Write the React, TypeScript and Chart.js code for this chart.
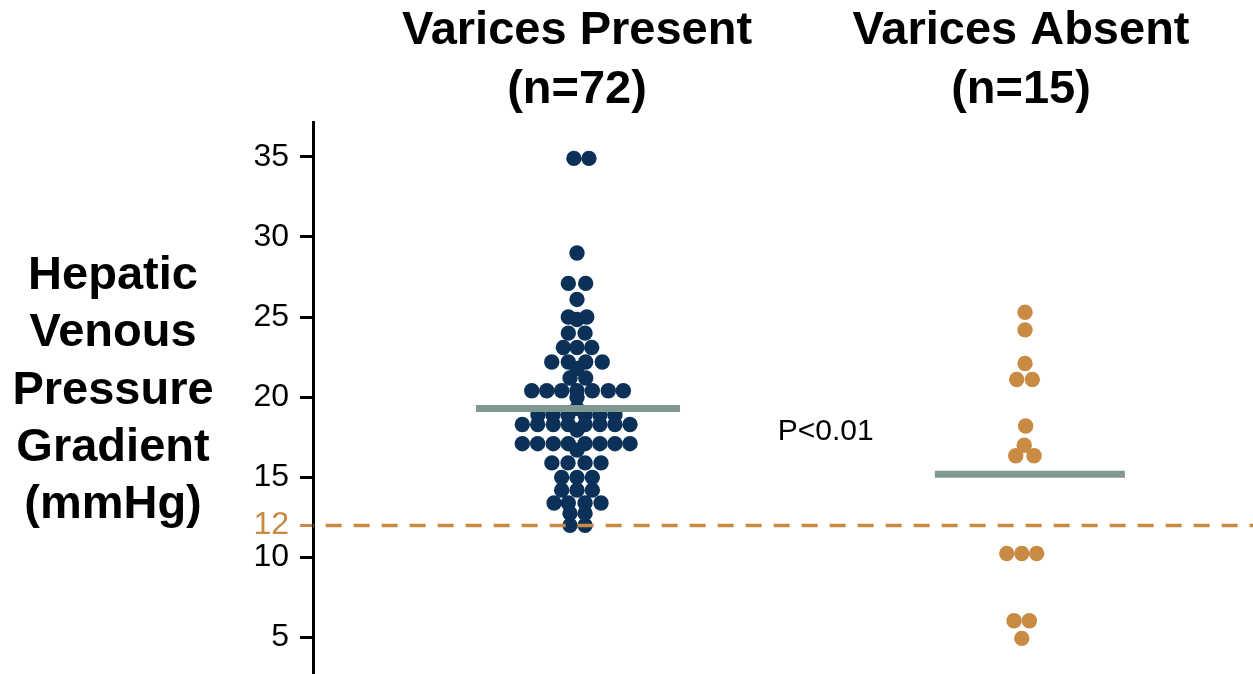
import React, { useEffect, useRef } from "react";
import { Chart, registerables } from "chart.js";

Chart.register(...registerables);

// ---------- data ----------
const categories = ["Varices Present", "Varices Absent"];
const groupCounts = ["(n=72)", "(n=15)"];
const yTitleLines = ["Hepatic", "Venous", "Pressure", "Gradient", "(mmHg)"];
const yTickValues = [5, 10, 12, 15, 20, 25, 30, 35];
const thresholdValue = 12;
const pValueLabel = "P<0.01";

// Varices present: HVPG values (mmHg) and beeswarm slot offsets
const presentValues = [
  34.9, 34.9,
  29.0,
  27.1, 27.1,
  26.1,
  25.0, 25.0, 24.85,
  24.0, 24.0,
  23.1, 23.1, 23.1,
  22.2, 22.2, 22.2, 22.2,
  21.8,
  21.2, 21.2,
  20.4, 20.4, 20.4, 20.4, 20.4, 20.4, 20.4,
  20.0,
  19.3,
  18.9, 18.9, 18.9, 18.9, 18.9, 18.9,
  18.3, 18.3, 18.3, 18.3, 18.3, 18.3, 18.3, 18.3,
  17.95,
  17.1, 17.1, 17.1, 17.1, 17.1, 17.1, 17.1, 17.1,
  16.7,
  15.9, 15.9, 15.9, 15.9,
  15.0, 15.0, 15.0,
  14.2, 14.2, 14.2,
  13.4, 13.4, 13.4, 13.4,
  12.75, 12.75,
  12.0, 12.0,
];
const presentSlots = [
  -0.2, 0.77,
  0,
  -0.56, 0.56,
  0,
  -0.56, 0.63, 0,
  -0.56, 0.52,
  -0.88, 0, 0.95,
  -1.63, -0.56, 0.56, 1.63,
  0,
  -0.45, 0.56,
  -2.92, -1.95, -0.99, 0, 0.99, 2.02, 2.99,
  0,
  0,
  -2.52, -1.55, -0.58, 0.52, 1.48, 2.45,
  -3.53, -2.54, -1.53, -0.56, 0.52, 1.48, 2.45, 3.42,
  0,
  -3.53, -2.54, -1.53, -0.56, 0.52, 1.48, 2.45, 3.42,
  0,
  -1.62, -0.58, 0.52, 1.55,
  -0.99, 0, 0.99,
  -0.99, 0, 0.99,
  -1.48, -0.56, 0.52, 1.55,
  -0.45, 0.52,
  -0.45, 0.52,
];

// Varices absent
const absentValues = [25.3, 24.2, 22.1, 21.1, 21.1, 18.2, 17.0, 16.35, 16.35, 10.25, 10.25, 10.25, 6.05, 6.05, 4.95];
const absentSlots = [0.26, 0.26, 0.26, -0.28, 0.73, 0.3, 0.21, -0.34, 0.84, -0.92, 0.05, 1.01, -0.45, 0.54, 0.05];

const groupMeans = [19.3, 15.2];

// ---------- styling ----------
const FONT = "'Liberation Sans', Arial, Helvetica, sans-serif";
const NAVY = "#0b3158";
const ORANGE = "#c98a43";
const GRAY = "#819791";
const X_MIN = 0.4054;
const X_MAX = 2.5225;
const SLOT_STEP = 0.0349;
const MEAN_SPANS = [
  [-0.2275, 0.232],
  [-0.194, 0.234],
];

const toPoints = (center: number, values: number[], slots: number[]) =>
  values.map((v, i) => ({ x: center + slots[i] * SLOT_STEP, y: v }));

const textPlugin = {
  id: "customText",
  afterDraw(chart: any) {
    const ctx = chart.ctx as CanvasRenderingContext2D;
    const xs = chart.scales.x;
    const ys = chart.scales.y;
    ctx.save();
    ctx.fillStyle = "#000";
    ctx.textAlign = "center";
    ctx.textBaseline = "alphabetic";
    ctx.font = `bold 47px ${FONT}`;
    categories.forEach((c, i) => {
      const cx = xs.getPixelForValue(i + 1);
      ctx.fillText(c, cx, 44);
      ctx.fillText(groupCounts[i], cx, 103);
    });
    yTitleLines.forEach((line, i) => {
      ctx.fillText(line, 113, 289 + i * 57.3);
    });
    ctx.font = `30px ${FONT}`;
    ctx.textBaseline = "middle";
    ctx.fillText(pValueLabel, xs.getPixelForValue(1.56), ys.getPixelForValue(17.83));
    ctx.restore();
  },
};

export default function App() {
  const ref = useRef<HTMLCanvasElement | null>(null);

  useEffect(() => {
    if (!ref.current) return;
    const chart = new Chart(ref.current, {
      type: "scatter",
      data: {
        datasets: [
          {
            type: "line",
            data: [
              { x: X_MIN, y: thresholdValue },
              { x: X_MAX, y: thresholdValue },
            ],
            showLine: true,
            borderColor: ORANGE,
            borderWidth: 3.5,
            borderDash: [16, 12],
            borderDashOffset: 15.3,
            pointRadius: 0,
            order: 0,
          } as any,
          ...groupMeans.map((m, i) => ({
            type: "line",
            data: [
              { x: i + 1 + MEAN_SPANS[i][0], y: m },
              { x: i + 1 + MEAN_SPANS[i][1], y: m },
            ],
            showLine: true,
            borderColor: GRAY,
            borderWidth: 7,
            borderCapStyle: "butt",
            pointRadius: 0,
            order: 1,
          })) as any[],
          {
            data: toPoints(1, presentValues, presentSlots),
            backgroundColor: NAVY,
            borderWidth: 0,
            pointRadius: 7.7,
            order: 2,
          },
          {
            data: toPoints(2, absentValues, absentSlots),
            backgroundColor: ORANGE,
            borderWidth: 0,
            pointRadius: 7.7,
            order: 2,
          },
        ],
      },
      options: {
        responsive: false,
        maintainAspectRatio: false,
        animation: false,
        devicePixelRatio: 1,
        layout: { autoPadding: false, padding: { top: 122, left: 0, right: 0, bottom: 0 } },
        plugins: { legend: { display: false }, tooltip: { enabled: false } },
        scales: {
          x: { type: "linear", min: X_MIN, max: X_MAX, display: false },
          y: {
            type: "linear",
            min: 2.73,
            max: 37.17,
            afterBuildTicks: (s: any) => {
              s.ticks = yTickValues.map((v) => ({ value: v }));
            },
            afterFit: (s: any) => {
              s.width = 313;
              s.paddingTop = 0;
              s.paddingBottom = 0;
            },
            ticks: {
              autoSkip: false,
              padding: 11,
              font: { size: 32, family: FONT },
              color: (c: any) => (c.tick && c.tick.value === thresholdValue ? ORANGE : "#000"),
            },
            grid: {
              drawOnChartArea: false,
              tickLength: 13,
              tickWidth: 3,
              tickColor: (c: any) => (c.tick && c.tick.value === thresholdValue ? ORANGE : "#000"),
            },
            border: { display: true, width: 3, color: "#000" },
          },
        },
      },
      plugins: [textPlugin],
    });
    return () => chart.destroy();
  }, []);

  return (
    <div style={{ position: "absolute", left: 0, top: 0, width: 1253, height: 674, background: "#fff" }}>
      <canvas ref={ref} width={1253} height={674} style={{ display: "block" }} />
    </div>
  );
}
